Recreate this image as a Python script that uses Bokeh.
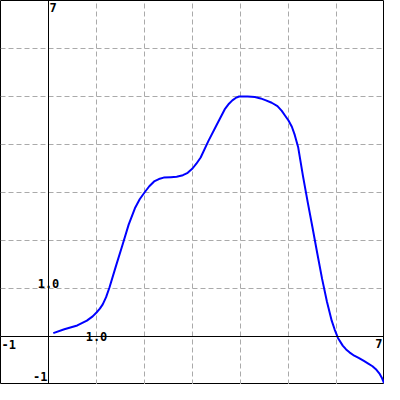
from bokeh.plotting import figure
from bokeh.models import Span, Label, FixedTicker
from bokeh.embed import file_html
from bokeh.resources import INLINE

# curve samples
xs = [0.1, 0.33, 0.6, 0.8, 0.92, 1.0, 1.07, 1.13, 1.2, 1.27, 1.4, 1.53, 1.67, 1.8, 1.9, 2.0,
      2.1, 2.2, 2.3, 2.4, 2.55, 2.67, 2.8, 2.9, 3.0, 3.08, 3.17, 3.33, 3.5, 3.67, 3.76, 3.83,
      3.9, 3.97, 4.15, 4.3, 4.42, 4.53, 4.65, 4.77, 4.86, 4.93, 5.0, 5.07, 5.13, 5.2, 5.3,
      5.4, 5.5, 5.6, 5.7, 5.8, 5.9, 5.96, 6.03, 6.13, 6.2, 6.27, 6.37, 6.47, 6.57, 6.67, 6.75,
      6.82, 6.9, 6.95, 6.99]
ys = [0.07, 0.15, 0.23, 0.33, 0.42, 0.5, 0.58, 0.67, 0.82, 1.02, 1.45, 1.87, 2.33, 2.67,
      2.86, 3.0, 3.13, 3.23, 3.28, 3.31, 3.32, 3.33, 3.36, 3.41, 3.5, 3.6, 3.73, 4.07, 4.4,
      4.73, 4.85, 4.92, 4.97, 5.0, 5.0, 4.99, 4.96, 4.92, 4.87, 4.8, 4.7, 4.6, 4.5, 4.37,
      4.2, 3.95, 3.35, 2.8, 2.27, 1.73, 1.2, 0.73, 0.33, 0.15, -0.03, -0.19, -0.27, -0.33,
      -0.4, -0.45, -0.51, -0.57, -0.62, -0.68, -0.78, -0.87, -0.97]

x_min, x_max = -1, 7
y_min, y_max = -1, 7
grid_ticks = [-1, 0, 1, 2, 3, 4, 5, 6, 7]
x_unit_label = "1.0"
y_unit_label = "1.0"

W = H = 384
p = figure(width=W, height=H, x_range=(x_min, x_max), y_range=(y_min, y_max),
           output_backend="svg", toolbar_location=None, min_border=0)
p.xaxis.visible = False
p.yaxis.visible = False
p.background_fill_color = "white"
p.border_fill_color = "white"
p.outline_line_color = "black"
p.outline_line_width = 1

for g in (p.xgrid, p.ygrid):
    g.ticker = FixedTicker(ticks=grid_ticks)
    g.grid_line_color = "#aaaaaa"
    g.grid_line_dash = "5 3"
    g.grid_line_width = 1

p.add_layout(Span(location=0, dimension="height", line_color="black", line_width=1))
p.add_layout(Span(location=0, dimension="width", line_color="black", line_width=1))

p.line(xs, ys, line_color="#0000ff", line_width=2, line_join="round")

ux = (x_max - x_min) / W
uy = (y_max - y_min) / H
font = dict(text_font="DejaVu Sans Mono", text_font_style="bold", text_font_size="12px",
            text_color="black")

p.add_layout(Label(x=x_min + 1 * ux, y=0 - 3 * uy, text=str(x_min), text_align="left",
                   text_baseline="top", **font))
p.add_layout(Label(x=x_max - 2 * ux, y=0 - 2 * uy, text=str(x_max), text_align="right",
                   text_baseline="top", **font))
p.add_layout(Label(x=0 + 1 * ux, y=y_max - 2 * uy, text=str(y_max), text_align="left",
                   text_baseline="top", **font))
p.add_layout(Label(x=0 - 1 * ux, y=y_min + 4 * uy, text=str(y_min), text_align="right",
                   text_baseline="bottom", **font))
p.add_layout(Label(x=1, y=0, text=x_unit_label, text_align="center",
                   text_baseline="middle", **font))
p.add_layout(Label(x=0, y=1 + 1 * uy, text=y_unit_label, text_align="center",
                   text_baseline="bottom", **font))

open("out.html", "w").write(file_html(p, INLINE))
